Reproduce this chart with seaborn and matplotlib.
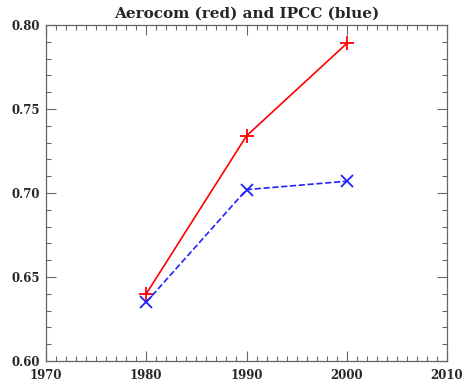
import numpy as np
import pandas as pd
import matplotlib
matplotlib.use("Agg")
import matplotlib.pyplot as plt
import seaborn as sns
from matplotlib.ticker import MultipleLocator

# data
years = [1980, 1990, 2000]
aerocom = [0.640, 0.734, 0.789]
ipcc = [0.635, 0.702, 0.707]

sns.set_style("ticks")
plt.rcParams['font.family'] = ['DejaVu Serif']
plt.rcParams['font.weight'] = 'bold'

fig = plt.figure(figsize=(4.64, 3.86), dpi=100)
ax = fig.add_axes([46/464, 25/386, 401/464, 336/386])

sns.lineplot(x=years, y=aerocom, ax=ax, color='red', linewidth=1.2,
             marker='+', markersize=10, markeredgewidth=1.3, markeredgecolor='red')
sns.lineplot(x=years, y=ipcc, ax=ax, color='#2222ff', linewidth=1.2, linestyle='--',
             dashes=(3.5, 2.5), marker='x', markersize=9, markeredgewidth=1.3,
             markeredgecolor='#2222ff')

ax.set_xlim(1970, 2010)
ax.set_ylim(0.60, 0.80)
ax.xaxis.set_major_locator(MultipleLocator(10))
ax.xaxis.set_minor_locator(MultipleLocator(1))
ax.yaxis.set_major_locator(MultipleLocator(0.05))
ax.yaxis.set_minor_locator(MultipleLocator(0.01))
ax.yaxis.set_major_formatter(matplotlib.ticker.FormatStrFormatter('%.2f'))
ax.tick_params(which='both', direction='in', top=True, right=True,
               labelsize=8.5, color='#666666', pad=4)
ax.tick_params(which='major', length=7, width=0.8)
ax.tick_params(which='minor', length=3.5, width=0.8)
ax.tick_params(axis='x', pad=6)
for s in ax.spines.values():
    s.set_color('#666666')
    s.set_linewidth(0.9)
for lab in ax.get_xticklabels() + ax.get_yticklabels():
    lab.set_fontweight('bold')

ax.set_title('Aerocom (red) and IPCC (blue)', fontsize=11, fontweight='bold', pad=5)

fig.savefig('out.png', dpi=100)
